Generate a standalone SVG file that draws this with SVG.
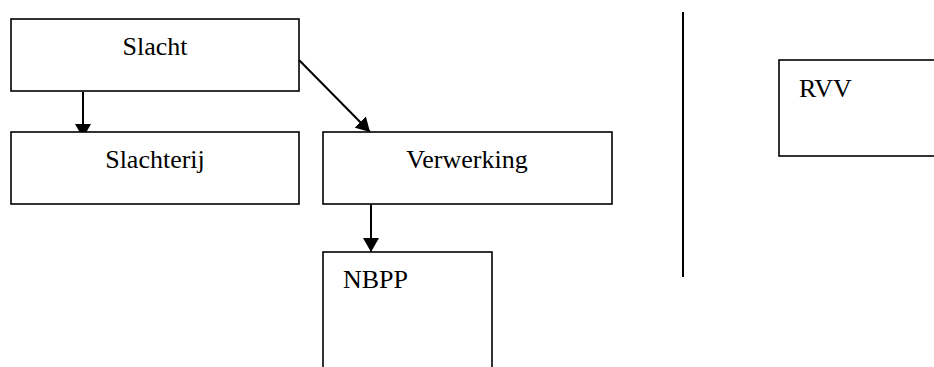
<svg xmlns="http://www.w3.org/2000/svg" width="934" height="367" viewBox="0 0 934 367">
<style>
.box{fill:#fff;stroke:#000;stroke-width:1.6}
.lbl{font-family:"Liberation Serif","Times New Roman",serif;font-size:26px;fill:#000}
.conn{stroke:#000;stroke-width:2;fill:none}
</style>
<defs>
<marker id="ah" markerWidth="16" markerHeight="16" refX="14" refY="8" orient="auto" markerUnits="userSpaceOnUse">
<path d="M0,0 L14,8 L0,16 Z" fill="#000"/>
</marker>
</defs>
<rect width="934" height="367" fill="#fff"/>
<g id="connectors">
<line class="conn" x1="83" y1="92" x2="83" y2="138" marker-end="url(#ah)"/>
<line class="conn" x1="299" y1="60" x2="370" y2="132" marker-end="url(#ah)"/>
<line class="conn" x1="371" y1="204" x2="371" y2="252" marker-end="url(#ah)"/>
<line class="conn" x1="683" y1="12" x2="683" y2="277"/>
</g>
<g id="slacht">
<rect class="box" x="11" y="19" width="288" height="72"/>
<text class="lbl" x="155" y="55" text-anchor="middle">Slacht</text>
</g>
<g id="slachterij">
<rect class="box" x="11" y="132" width="288" height="72"/>
<text class="lbl" x="155" y="168" text-anchor="middle">Slachterij</text>
</g>
<g id="verwerking">
<rect class="box" x="323" y="132" width="289" height="72"/>
<text class="lbl" x="467" y="168" text-anchor="middle">Verwerking</text>
</g>
<g id="nbpp">
<rect class="box" x="323" y="252" width="169" height="130"/>
<text class="lbl" x="343" y="288">NBPP</text>
</g>
<g id="rvv">
<rect class="box" x="779" y="60" width="170" height="96"/>
<text class="lbl" x="799" y="97">RVV</text>
</g>
</svg>
